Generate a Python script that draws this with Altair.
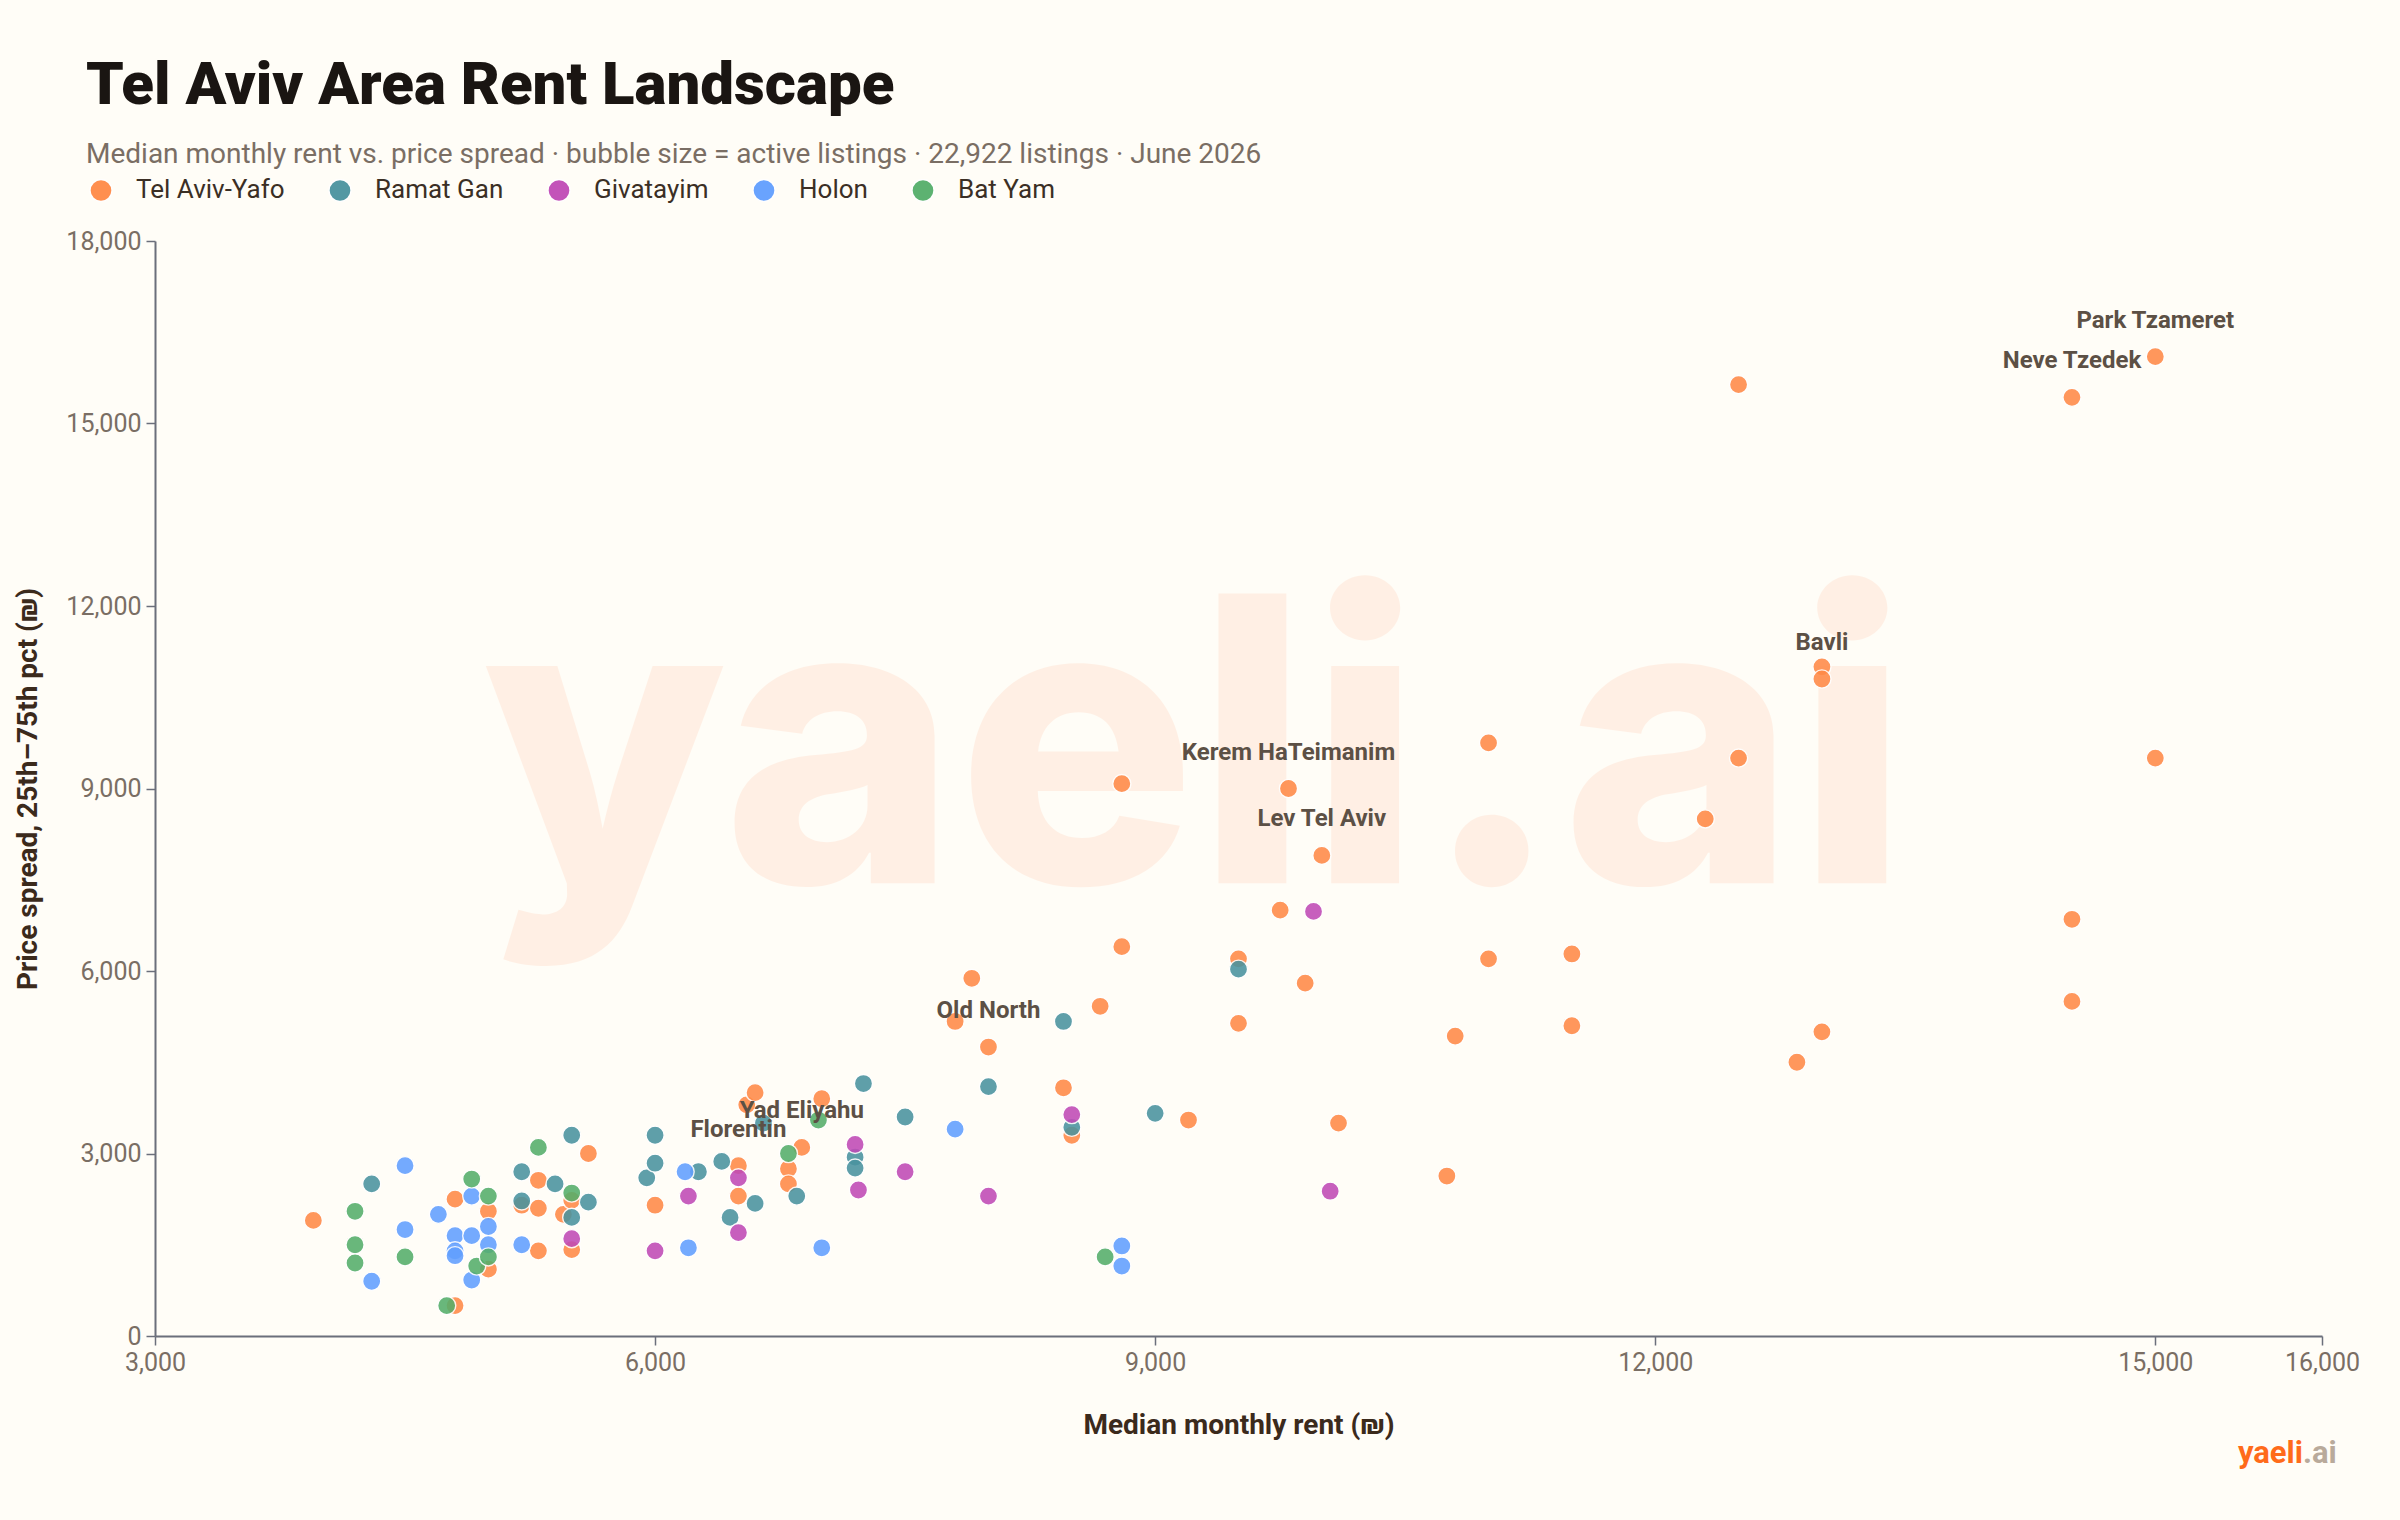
import altair as alt
import pandas as pd

# Cities in legend order, with their colours
cities = ["Tel Aviv-Yafo", "Ramat Gan", "Givatayim", "Holon", "Bat Yam"]
city_colors = ["#FF8A47", "#4A939F", "#C04AB6", "#619FFF", "#55AE6A"]

# Median monthly rent (NIS) and 25th-75th percentile spread per neighbourhood
tlv_rent = [3950, 4800, 4800, 5000, 5000, 5200, 5300, 5300, 5300, 5450, 5500, 5500,
            5600, 6000, 6500, 6500, 6550, 6600, 6800, 6800, 6880, 7000, 7800, 7900,
            8000, 8450, 8500, 8670, 8800, 8800, 9200, 9500, 9500, 9750, 9800, 9900,
            10000, 10100, 10750, 10800, 11000, 11000, 11500, 11500, 12300, 12500,
            12500, 12850, 13000, 13000, 13000, 14500, 14500, 14500, 15000, 15000]
tlv_spread = [1900, 2250, 500, 2050, 1100, 2150, 2560, 2100, 1400, 2000, 2230, 1420,
              3000, 2150, 2800, 2300, 3800, 4000, 2750, 2500, 3100, 3900, 5170, 5880,
              4750, 4080, 3300, 5420, 9080, 6400, 3550, 6200, 5140, 7000, 9000, 5800,
              7900, 3500, 2630, 4930, 9750, 6200, 6280, 5100, 8500, 15640,
              9500, 4500, 11000, 10800, 5000, 15430, 6850, 5500, 16100, 9500]

rg_rent = [4300, 5200, 5200, 5400, 5500, 5500, 5600, 5950, 6000, 6000, 6260, 6400,
           6450, 6600, 6650, 6850, 7200, 7200, 7250, 7500, 8000, 8450, 8500, 9000, 9500]
rg_spread = [2500, 2700, 2220, 2500, 3300, 1950, 2200, 2600, 3300, 2840, 2700, 2870,
             1950, 2180, 3500, 2300, 2940, 2760, 4150, 3600, 4100, 5170, 3430, 3660, 6030]

giv_rent = [5500, 6000, 6200, 6500, 6500, 7200, 7220, 7500, 8000, 8500, 9950, 10050]
giv_spread = [1600, 1400, 2300, 2600, 1700, 3150, 2400, 2700, 2300, 3640, 6980, 2380]

holon_rent = [4300, 4500, 4500, 4700, 4800, 4800, 4800, 4900, 4900, 4900, 5000, 5000,
              5200, 6180, 6200, 7000, 7800, 8800, 8800]
holon_spread = [900, 2800, 1750, 2000, 1650, 1400, 1320, 2300, 1650, 920, 1800, 1500,
                1500, 2700, 1450, 1450, 3400, 1480, 1150]

by_rent = [4200, 4200, 4200, 4500, 4750, 4900, 4930, 5000, 5000, 5300, 5500, 6800,
           6980, 8700]
by_spread = [2050, 1500, 1200, 1300, 500, 2580, 1150, 2300, 1300, 3100, 2350, 3000,
             3550, 1300]

# Named neighbourhoods that get a callout
callout_names = ["Park Tzameret", "Neve Tzedek", "Bavli", "Kerem HaTeimanim",
                 "Lev Tel Aviv", "Old North", "Yad Eliyahu", "Florentin"]
callout_rent = [15000, 14500, 13000, 9800, 10000, 8000, 6880, 6500]
callout_spread = [16100, 15430, 10800, 9000, 7900, 4750, 3100, 2800]

x_ticks = [3000, 6000, 9000, 12000, 15000, 16000]
y_ticks = [0, 3000, 6000, 9000, 12000, 15000, 18000]

rows = []
for city, rents, spreads in [
    (cities[0], tlv_rent, tlv_spread),
    (cities[1], rg_rent, rg_spread),
    (cities[2], giv_rent, giv_spread),
    (cities[3], holon_rent, holon_spread),
    (cities[4], by_rent, by_spread),
]:
    for r, s in zip(rents, spreads):
        rows.append({"city": city, "rent": r, "spread": s})
points_df = pd.DataFrame(rows)
callouts_df = pd.DataFrame({"name": callout_names, "rent": callout_rent,
                            "spread": callout_spread})

FONT = "Roboto"

x_enc = alt.X("rent:Q", title="Median monthly rent (₪)",
              scale=alt.Scale(domain=[3000, 16000], nice=False, zero=False),
              axis=alt.Axis(values=x_ticks, format=",d", titlePadding=36,
                            labelFlush=False))
y_enc = alt.Y("spread:Q", title="Price spread, 25th–75th pct (₪)",
              scale=alt.Scale(domain=[0, 18000], nice=False),
              axis=alt.Axis(values=y_ticks, format=",d", titlePadding=23,
                            labelFlush=False))

# Faint brand watermark behind the data
watermark = alt.Chart(pd.DataFrame({"t": ["yaeli.ai"]})).mark_text(
    font="Inter", fontSize=398, fontWeight=800, color="#FF6A2A", opacity=0.085,
    align="center", baseline="middle"
).encode(text="t:N", x=alt.datum(9240), y=alt.datum(9400))

points = alt.Chart(points_df).mark_circle(
    size=330, opacity=0.88, stroke="white", strokeWidth=1.4
).encode(
    x=x_enc,
    y=y_enc,
    color=alt.Color("city:N", scale=alt.Scale(domain=cities, range=city_colors),
                    sort=cities,
                    legend=alt.Legend(title=None, orient="none", direction="horizontal",
                                      legendX=-67, legendY=-64, symbolType="circle",
                                      symbolSize=490, symbolOpacity=0.95,
                                      symbolStrokeColor="white", symbolStrokeWidth=1.5,
                                      labelFont=FONT, labelFontSize=26,
                                      labelColor="#3B2F25", labelOffset=22,
                                      columnPadding=40)),
)

labels = alt.Chart(callouts_df).mark_text(
    font=FONT, fontSize=24, fontWeight="bold", color="#5C5045", dy=-36
).encode(x="rent:Q", y="spread:Q", text="name:N")

brand_a = alt.Chart(pd.DataFrame({"t": ["yaeli"]})).mark_text(
    font=FONT, fontSize=31, fontWeight="bold", color="#FF6B1A",
    align="right", baseline="alphabetic"
).encode(text="t:N", x=alt.value(2148), y=alt.value(1222))
brand_b = alt.Chart(pd.DataFrame({"t": [".ai"]})).mark_text(
    font=FONT, fontSize=31, fontWeight="bold", color="#B9AA9B",
    align="left", baseline="alphabetic"
).encode(text="t:N", x=alt.value(2148), y=alt.value(1222))

chart = alt.layer(watermark, points, labels, brand_a, brand_b).properties(
    width=2167,
    height=1095,
    padding={"left": 155, "top": 241, "right": 78, "bottom": 184},
    autosize=alt.AutoSizeParams(type="none"),
    background="#FFFDF7",
    title=alt.TitleParams(
        text="Tel Aviv Area Rent Landscape",
        subtitle="Median monthly rent vs. price spread · bubble size = active listings · 22,922 listings · June 2026",
        anchor="start", frame="group", dx=-69,
        font=FONT, fontSize=60, fontWeight=900, color="#1A1512",
        subtitleFont=FONT, subtitleFontSize=28, subtitleColor="#7A6E64",
        subtitlePadding=24, offset=7,
    ),
).configure_view(strokeWidth=0).configure_axis(
    labelFont=FONT, labelFontSize=25, labelColor="#7A6E64", labelPadding=5,
    titleFont=FONT, titleFontSize=28, titleFontWeight="bold", titleColor="#3B2A1C",
    domainColor="#6B6F7B", domainWidth=2, tickColor="#6B6F7B", tickSize=9,
    tickWidth=1.5, gridColor="#EEE8DE", gridWidth=1.5,
)

chart.save("out.html", embed_options={"renderer": "svg", "actions": False})
